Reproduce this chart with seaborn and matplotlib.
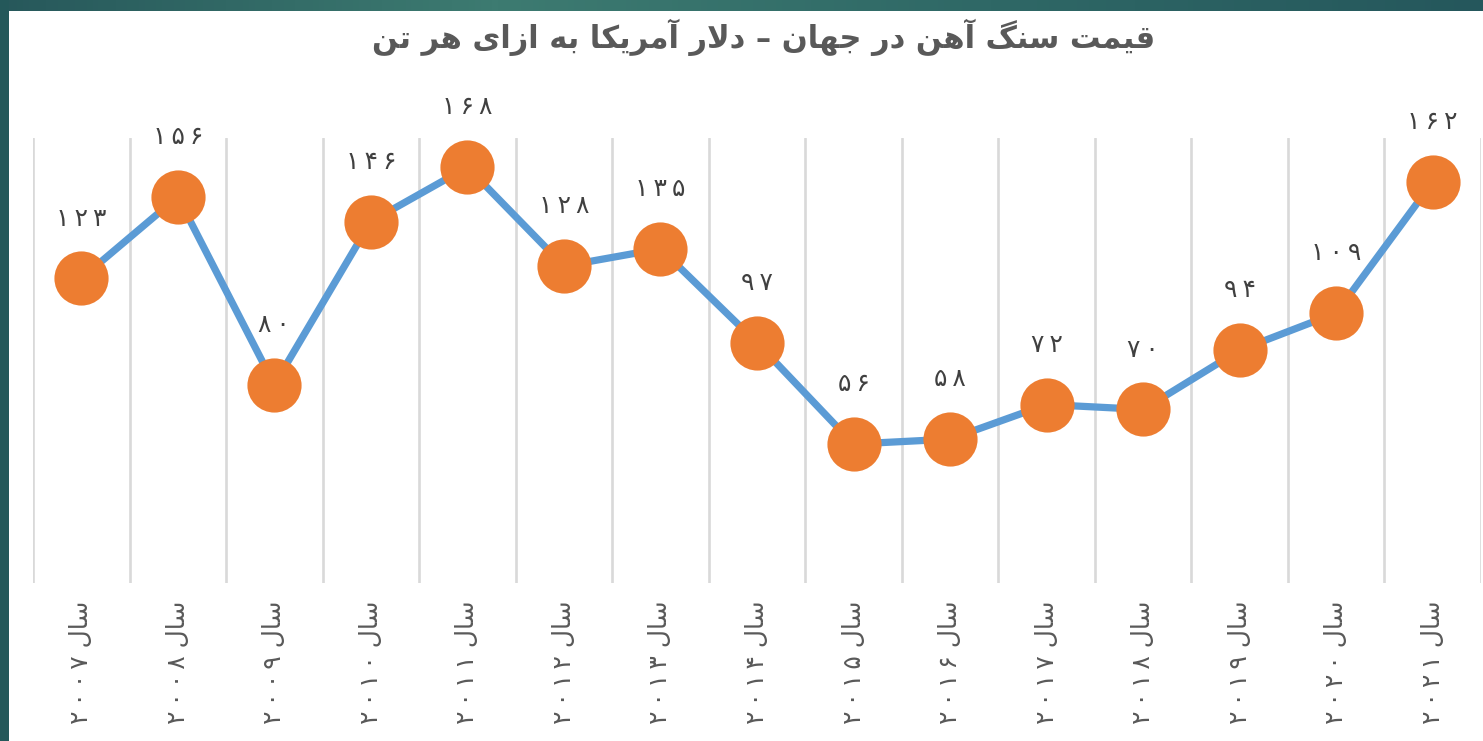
import numpy as np
import pandas as pd
import matplotlib
matplotlib.use("Agg")
import matplotlib.pyplot as plt
from matplotlib.colors import LinearSegmentedColormap
import seaborn as sns

# ---------------- data ----------------
years = [2007, 2008, 2009, 2010, 2011, 2012, 2013, 2014, 2015, 2016, 2017, 2018, 2019, 2020, 2021]
prices = [123, 156, 80, 146, 168, 128, 135, 97, 56, 58, 72, 70, 94, 109, 162]
year_prefix = "سال"
title_text = "قیمت سنگ آهن در جهان – دلار آمریکا به ازای هر تن"

# ---------------- Persian text shaping (matplotlib has no bidi/shaping) ----------------
FORMS = {
    'ا': ('\uFE8D', '\uFE8E', None, None),
    'آ': ('\uFE81', '\uFE82', None, None),
    'ب': ('\uFE8F', '\uFE90', '\uFE91', '\uFE92'),
    'ت': ('\uFE95', '\uFE96', '\uFE97', '\uFE98'),
    'ج': ('\uFE9D', '\uFE9E', '\uFE9F', '\uFEA0'),
    'د': ('\uFEA9', '\uFEAA', None, None),
    'ر': ('\uFEAD', '\uFEAE', None, None),
    'ز': ('\uFEAF', '\uFEB0', None, None),
    'س': ('\uFEB1', '\uFEB2', '\uFEB3', '\uFEB4'),
    'ق': ('\uFED5', '\uFED6', '\uFED7', '\uFED8'),
    'ک': ('\uFB8E', '\uFB8F', '\uFB90', '\uFB91'),
    'گ': ('\uFB92', '\uFB93', '\uFB94', '\uFB95'),
    'ل': ('\uFEDD', '\uFEDE', '\uFEDF', '\uFEE0'),
    'م': ('\uFEE1', '\uFEE2', '\uFEE3', '\uFEE4'),
    'ن': ('\uFEE5', '\uFEE6', '\uFEE7', '\uFEE8'),
    'ه': ('\uFEE9', '\uFEEA', '\uFEEB', '\uFEEC'),
    'و': ('\uFEED', '\uFEEE', None, None),
    'ی': ('\uFBFC', '\uFBFD', '\uFBFE', '\uFBFF'),
}
LAM_ALEF = {'ا': ('\uFEFB', '\uFEFC'), 'آ': ('\uFEF5', '\uFEF6')}


def shape(text):
    chars = list(text)
    n = len(chars)
    out = []

    def joins_next(c):
        return c in FORMS and FORMS[c][2] is not None

    i = 0
    while i < n:
        c = chars[i]
        prev = chars[i - 1] if i > 0 else ''
        conn_prev = joins_next(prev) and c in FORMS
        if c == 'ل' and i + 1 < n and chars[i + 1] in LAM_ALEF:
            lig = LAM_ALEF[chars[i + 1]]
            out.append(lig[1] if conn_prev else lig[0])
            i += 2
            continue
        if c not in FORMS:
            out.append(c)
            i += 1
            continue
        nxt = chars[i + 1] if i + 1 < n else ''
        conn_next = joins_next(c) and nxt in FORMS
        iso, fin, ini, med = FORMS[c]
        if conn_prev and conn_next:
            f = med
        elif conn_prev:
            f = fin
        elif conn_next:
            f = ini
        else:
            f = iso
        out.append(f)
        i += 1
    return ''.join(reversed(out))


FA_DIGITS = str.maketrans('0123456789', '۰۱۲۳۴۵۶۷۸۹')


def fa(num, gap='\u2009'):
    return gap.join(str(num).translate(FA_DIGITS))


# ---------------- styling ----------------
sns.set_theme(style="white")
plt.rcParams['font.family'] = ['DejaVu Sans']

W, H = 1483, 741
fig = plt.figure(figsize=(W / 100, H / 100), dpi=100)
fig.patch.set_facecolor('#25595b')

# background: teal frame + white slide area
bg = fig.add_axes([0, 0, 1, 1], zorder=-10)
bg.set_axis_off()
grad = np.linspace(0, 1, 256)[None, :]
cmap = LinearSegmentedColormap.from_list('teal', ['#27585b', '#3d7b71', '#2f6866', '#25575c'])
bg.imshow(grad, aspect='auto', cmap=cmap, extent=[0, 1, 0, 1])
bg.set_xlim(0, 1)
bg.set_ylim(0, 1)
bg.add_patch(plt.Rectangle((0, 0), 9 / W, 1, color='#24585a', lw=0))
bg.add_patch(plt.Rectangle((9 / W, 0), 1, 1 - 11 / H, color='white', lw=0))

# main axes
left, right = 33 / W, 1481 / W
bottom, top = (H - 582.5) / H, (H - 137.5) / H
ax = fig.add_axes([left, bottom, right - left, top - bottom])
ax.set_facecolor('none')

df = pd.DataFrame({'x': np.arange(len(years)), 'price': prices})
sns.lineplot(data=df, x='x', y='price', ax=ax, color='#5b9bd5', linewidth=5.2,
             zorder=2, legend=False)
sns.scatterplot(data=df, x='x', y='price', ax=ax, color='#ed7d31', s=39 ** 2,
                linewidth=0, zorder=3, legend=False)

ax.set_xlim(-0.5, len(years) - 0.5)
ax.set_ylim(0, 180)
ax.set_yticks([])
ax.set_xlabel('')
ax.set_ylabel('')
for s in ax.spines.values():
    s.set_visible(False)

# vertical gridlines between categories
ax.set_xticks(np.arange(-0.5, len(years), 1.0), minor=True)
ax.grid(True, which='minor', axis='x', color='#d9d9d9', linewidth=1.9)
ax.grid(False, which='major')
ax.tick_params(axis='x', which='minor', length=0)
ax.tick_params(axis='x', which='major', length=0, pad=13)

ax.set_xticks(np.arange(len(years)))
ax.set_xticklabels([fa(y, '\u2009') + ' ' + shape(year_prefix) for y in years],
                   rotation=90, fontsize=18, color='#595959')

# data labels
for xi, v in zip(df['x'], df['price']):
    ax.annotate(fa(v, '\u2009'), (xi, v), xytext=(0, 43), textcoords='offset points',
                ha='center', va='center', fontsize=18, color='#404040')

fig.text(0.515, 1 - 37 / H, shape(title_text), ha='center', va='center',
         fontsize=22, fontweight='bold', color='#595959')

fig.savefig('out.png', dpi=100)
